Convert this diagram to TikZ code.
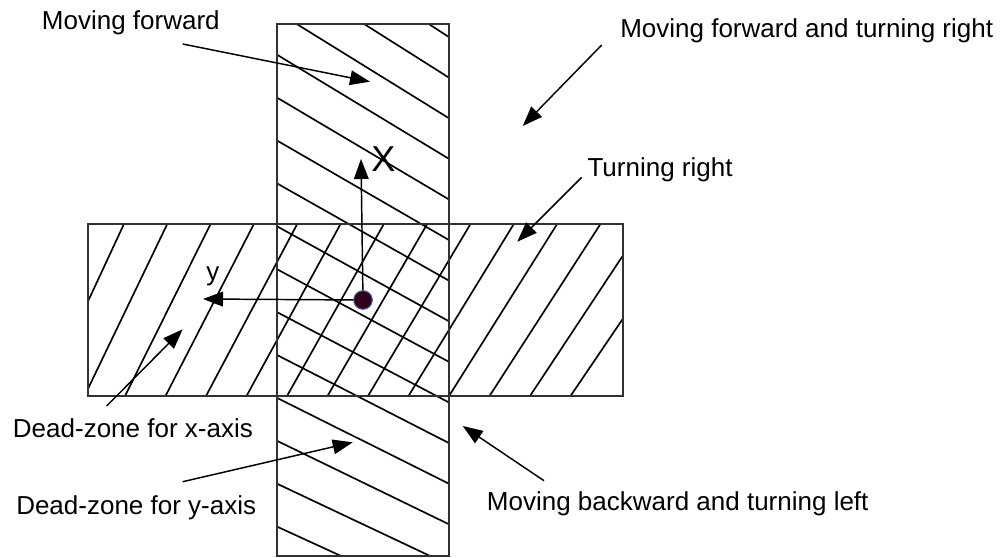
\documentclass[tikz,border=0pt]{standalone}
\usepackage{fontspec}
\setmainfont{Liberation Sans}
\usetikzlibrary{arrows.meta,calc}
\definecolor{dotfill}{RGB}{48,0,28}
\definecolor{dotedge}{RGB}{80,100,150}
\definecolor{edgegray}{RGB}{50,50,50}
\tikzset{
  lbl/.style={anchor=base west,inner sep=0pt,font=\fontsize{19.5}{23}\selectfont},
  hatchline/.style={line width=1.25pt,black},
  zone/.style={draw=edgegray,line width=1.4pt},
  pointer/.style={line width=1.1pt,-{Triangle[length=15pt,width=11pt]}},
  axisdot/.style={circle,fill=dotfill,draw=dotedge,line width=0.8pt,minimum size=14pt,inner sep=0pt},
}
\begin{document}
\begin{tikzpicture}[x=0.75pt,y=-0.75pt]
\useasboundingbox (0,0) rectangle (1002,557);
% hatching of the vertical zone
\begin{scope}
  \clip (277,24) rectangle (449,556);
  \foreach \i in {-2,...,13}{
    \pgfmathsetmacro\L{11.8+42.9*\i}
    \pgfmathsetmacro\s{(1999-\L)/3210}
    \draw[hatchline] (270,{\L-7*\s}) -- (460,{\L+183*\s});
  }
\end{scope}
% hatching of the horizontal zone
\begin{scope}
  \clip (88,224) rectangle (623,396);
  \foreach \k in {-3,...,11}{
    \pgfmathsetmacro\B{125+40.5*\k}
    \pgfmathsetmacro\q{(\B+1105)/2472}
    \draw[hatchline] ({\B-10*\q},406) -- ({\B+182*\q},214);
  }
\end{scope}
% zone outlines
\draw[zone] (277,24) rectangle (449,556);
\draw[zone] (88,224) rectangle (623,396);

% axes
\coordinate (o) at (363,300);
\coordinate (xtip) at (361,159);
\coordinate (ytip) at (203,299);
\draw[pointer] (o) -- (xtip);
\draw[pointer] (o) -- (ytip);
\node[axisdot] (dot) at (o) {};
\node[anchor=base,inner sep=0pt,font=\fontsize{27}{30}\selectfont] (xlab) at (383.5,171.7) {X};
\node[lbl] (ylab) at (206,280) {y};

% labels
\node[lbl] (mf) at (41.7,29.3) {Moving forward};
\node[lbl] (mfr) at (620,37.3) {Moving forward and turning right};
\node[lbl] (tr) at (587.3,176) {Turning right};
\node[lbl] (dzx) at (12.7,437.7) {Dead-zone for x-axis};
\node[lbl] (dzy) at (16,514) {Dead-zone for y-axis};
\node[lbl] (mbl) at (486.7,510) {Moving backward and turning left};

% callout arrows
\coordinate (mfs) at (182.7,44);   \coordinate (mft) at (370,81.7);
\coordinate (mfrs) at (601.7,45);  \coordinate (mfrt) at (522.7,126);
\coordinate (trs) at (581.7,177.3); \coordinate (trt) at (517.3,241.7);
\coordinate (dzxs) at (106.7,406); \coordinate (dzxt) at (182.7,329.3);
\coordinate (dzys) at (182.7,481.7); \coordinate (dzyt) at (352.7,442.3);
\coordinate (mbls) at (544,480.7); \coordinate (mblt) at (462.7,426);
\draw[pointer] (mfs) -- (mft);
\draw[pointer] (mfrs) -- (mfrt);
\draw[pointer] (trs) -- (trt);
\draw[pointer] (dzxs) -- (dzxt);
\draw[pointer] (dzys) -- (dzyt);
\draw[pointer] (mbls) -- (mblt);
\end{tikzpicture}
\end{document}
